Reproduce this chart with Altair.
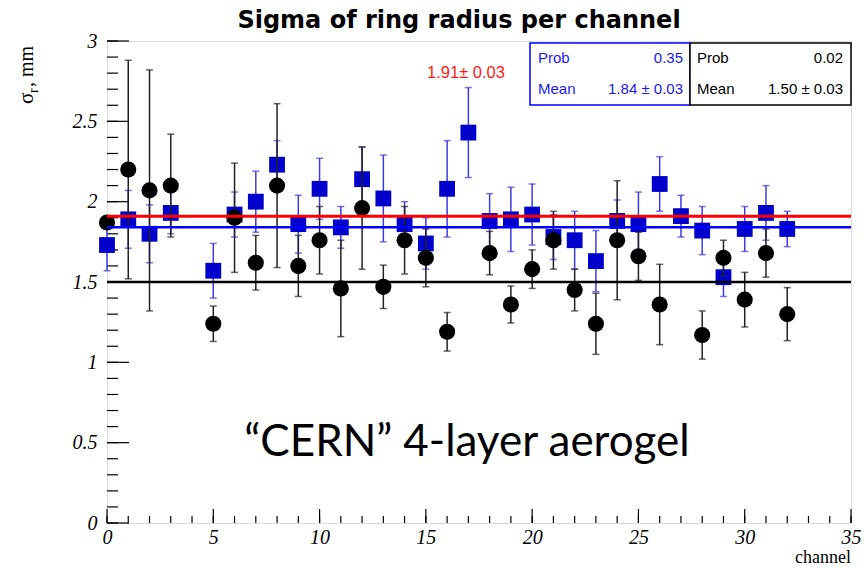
import altair as alt
import pandas as pd

# Per-channel sigma of the ring radius, two aerogel configurations
blue_channel = [0, 1, 2, 3, 5, 6, 7, 8, 9, 10, 11, 12, 13, 14, 15, 16, 17,
                18, 19, 20, 21, 22, 23, 24, 25, 26, 27, 28, 29, 30, 31, 32]
blue_sigma = [1.73, 1.89, 1.80, 1.93, 1.57, 1.92, 2.00, 2.23, 1.86, 2.08, 1.84,
              2.14, 2.02, 1.86, 1.74, 2.08, 2.43, 1.88, 1.89, 1.92, 1.78, 1.76,
              1.63, 1.88, 1.86, 2.11, 1.91, 1.82, 1.53, 1.83, 1.93, 1.83]
blue_err = [0.16, 0.18, 0.18, 0.13, 0.17, 0.14, 0.19, 0.15, 0.18, 0.19, 0.13,
            0.20, 0.27, 0.14, 0.16, 0.30, 0.28, 0.17, 0.20, 0.19, 0.14, 0.18,
            0.19, 0.13, 0.20, 0.17, 0.13, 0.15, 0.12, 0.14, 0.17, 0.11]

black_channel = [0, 1, 2, 3, 5, 6, 7, 8, 9, 10, 11, 12, 13, 14, 15, 16,
                 18, 19, 20, 21, 22, 23, 24, 25, 26, 28, 29, 30, 31, 32]
black_sigma = [1.87, 2.20, 2.07, 2.10, 1.24, 1.90, 1.62, 2.10, 1.60, 1.76, 1.46,
               1.96, 1.47, 1.76, 1.65, 1.19, 1.68, 1.36, 1.58, 1.76, 1.45, 1.24,
               1.76, 1.66, 1.36, 1.17, 1.65, 1.39, 1.68, 1.30]
black_err = [0.04, 0.68, 0.75, 0.32, 0.11, 0.34, 0.17, 0.51, 0.19, 0.21, 0.30,
             0.38, 0.135, 0.21, 0.18, 0.12, 0.135, 0.115, 0.12, 0.18, 0.13, 0.19,
             0.37, 0.15, 0.25, 0.15, 0.11, 0.17, 0.15, 0.165]

# Fitted constants (mean lines)
fit_red = 1.91
fit_blue = 1.84
fit_black = 1.50

x_major = [0, 5, 10, 15, 20, 25, 30, 35]
x_minor = list(range(0, 36))
y_major = [0, 0.5, 1, 1.5, 2, 2.5, 3]
y_minor = [round(0.1 * i, 1) for i in range(31)]

W, H = 744, 482
BLUE = "#0000cc"
BLUE_ERR = "#3b3be0"
SERIF = "Liberation Serif"
SANS = "Liberation Sans"

blue_df = pd.DataFrame({"channel": blue_channel, "sigma": blue_sigma, "err": blue_err})
blue_df["lo"] = blue_df["sigma"] - blue_df["err"]
blue_df["hi"] = blue_df["sigma"] + blue_df["err"]
black_df = pd.DataFrame({"channel": black_channel, "sigma": black_sigma, "err": black_err})
black_df["lo"] = black_df["sigma"] - black_df["err"]
black_df["hi"] = black_df["sigma"] + black_df["err"]

xscale = alt.Scale(domain=[0, 35], nice=False, zero=False)
yscale = alt.Scale(domain=[0, 3], nice=False, zero=False)

xaxis = alt.Axis(values=x_major, ticks=False, domain=False, grid=False, title=None,
                 labelFont=SERIF, labelFontStyle="italic", labelFontSize=20,
                 labelColor="black", labelPadding=4, labelFlush=False, labelBound=False)
yaxis = alt.Axis(values=y_major, ticks=False, domain=False, grid=False, title=None,
                 labelFont=SERIF, labelFontStyle="italic", labelFontSize=20,
                 labelColor="black", labelPadding=10, labelFlush=False, labelBound=False,
                 format="~g")

X = lambda: alt.X("channel:Q", scale=xscale, axis=xaxis)
Y = lambda f: alt.Y(f"{f}:Q", scale=yscale, axis=yaxis)


def series(df, color, err_color, shape):
    base = alt.Chart(df)
    bars = base.mark_rule(color=err_color, strokeWidth=1.5).encode(
        x=X(), y=Y("lo"), y2="hi")
    cap_lo = base.mark_tick(orient="horizontal", color=err_color, size=7, thickness=1.5).encode(
        x=X(), y=Y("lo"))
    cap_hi = base.mark_tick(orient="horizontal", color=err_color, size=7, thickness=1.5).encode(
        x=X(), y=Y("hi"))
    if shape == "square":
        pts = base.mark_square(size=250, color=color, opacity=1).encode(x=X(), y=Y("sigma"))
    else:
        pts = base.mark_circle(size=260, color=color, opacity=1).encode(x=X(), y=Y("sigma"))
    return bars + cap_lo + cap_hi + pts


blue_layer = series(blue_df, BLUE, BLUE_ERR, "square")
black_layer = series(black_df, "black", "#222222", "circle")

lines_df = pd.DataFrame({"level": [fit_black, fit_blue, fit_red],
                         "col": ["black", "#0000ff", "#ff0000"],
                         "w": [2.5, 2.5, 3]})
lines = alt.Chart(lines_df).mark_rule().encode(
    y=alt.Y("level:Q", scale=yscale, axis=yaxis),
    color=alt.Color("col:N", scale=None),
    strokeWidth=alt.StrokeWidth("w:Q", scale=None),
)

# Inward axis ticks
ytick_minor = alt.Chart(pd.DataFrame({"v": y_minor})).mark_rule(color="black", strokeWidth=1.2).encode(
    y=alt.Y("v:Q", scale=yscale, axis=yaxis), x=alt.value(0), x2=alt.value(11))
ytick_major = alt.Chart(pd.DataFrame({"v": y_major})).mark_rule(color="black", strokeWidth=1.2).encode(
    y=alt.Y("v:Q", scale=yscale, axis=yaxis), x=alt.value(0), x2=alt.value(22))
xtick_minor = alt.Chart(pd.DataFrame({"v": x_minor})).mark_rule(color="black", strokeWidth=1.2).encode(
    x=alt.X("v:Q", scale=xscale, axis=xaxis), y=alt.value(H), y2=alt.value(H - 7))
xtick_major = alt.Chart(pd.DataFrame({"v": x_major})).mark_rule(color="black", strokeWidth=1.2).encode(
    x=alt.X("v:Q", scale=xscale, axis=xaxis), y=alt.value(H), y2=alt.value(H - 14))

# Statistics boxes
box_blue = alt.Chart(pd.DataFrame({"a": [0]})).mark_rect(fill="white", stroke="#0000ff", strokeWidth=1.5).encode(
    x=alt.value(423), x2=alt.value(583), y=alt.value(2), y2=alt.value(64))
box_black = alt.Chart(pd.DataFrame({"a": [0]})).mark_rect(fill="white", stroke="black", strokeWidth=1.5).encode(
    x=alt.value(583), x2=alt.value(W), y=alt.value(2), y2=alt.value(64))


def label(text, x, y, color="black", size=15, align="left", font=SANS, weight="normal",
          style="normal", angle=0, baseline="middle"):
    return alt.Chart(pd.DataFrame({"a": [0]})).mark_text(
        text=text, color=color, fontSize=size, align=align, font=font, fontWeight=weight,
        fontStyle=style, angle=angle, baseline=baseline).encode(x=alt.value(x), y=alt.value(y))


texts = [
    label("Prob", 431, 17, color="#1a1aee"),
    label("0.35", 576, 17, color="#1a1aee", align="right"),
    label("Mean", 431, 48, color="#1a1aee"),
    label("1.84 \u00b1 0.03", 576, 48, color="#1a1aee", align="right"),
    label("Prob", 590, 17),
    label("0.02", 736, 17, align="right"),
    label("Mean", 590, 48),
    label("1.50 \u00b1 0.03", 736, 48, align="right"),
    label(f"{fit_red:.2f}\u00b1 0.03", 359, 32, color="#ff1a1a", size=16.5, align="center"),
    label("Sigma of ring radius per channel", 352, -13, size=24, weight="bold",
          font="DejaVu Sans", align="center", baseline="alphabetic"),
    label("\u201cCERN\u201d 4-layer aerogel", 360, 402, size=44, font="Lato", align="center"),
    label("channel", W, 522, size=18, font=SERIF, align="right", baseline="alphabetic"),
    label("\u03c3", -74, 63, size=21, font=SERIF, align="left", angle=270, baseline="alphabetic"),
    label("r", -69, 52, size=14, font=SERIF, align="left", angle=270, baseline="alphabetic"),
    label(", mm", -74, 46, size=20, font=SERIF, align="left", angle=270, baseline="alphabetic"),
]

chart = alt.layer(
    ytick_minor, ytick_major, xtick_minor, xtick_major,
    blue_layer, black_layer, lines,
    box_blue, box_black, *texts,
).properties(
    width=W, height=H,
    padding={"left": 107, "top": 41, "right": 13, "bottom": 45},
    autosize=alt.AutoSizeParams(type="none"),
).configure_view(
    stroke="black", strokeWidth=3.5,
).configure(background="white")

chart.save("out.html", embed_options={"renderer": "svg", "actions": False})
